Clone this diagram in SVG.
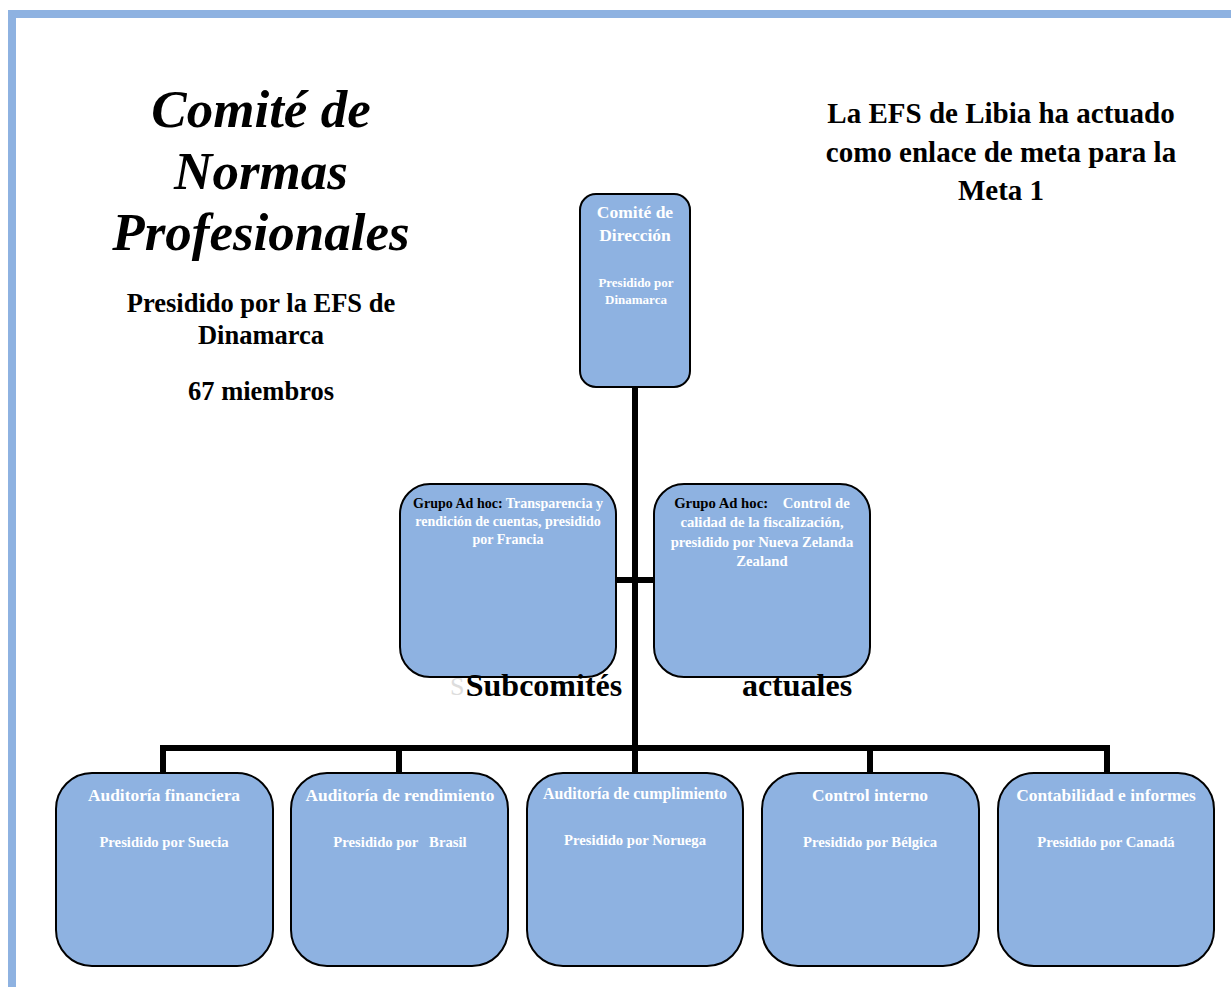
<svg xmlns="http://www.w3.org/2000/svg" width="1231" height="987" viewBox="0 0 1231 987">
<style>
.box{fill:#8EB2E1;stroke:#000;stroke-width:2}
.ln{stroke:#000;stroke-width:6;fill:none}
.w{font-family:"Liberation Serif","Times New Roman",serif;font-weight:bold;fill:#fff;text-anchor:middle}
.b{font-family:"Liberation Serif","Times New Roman",serif;font-weight:bold;fill:#000;text-anchor:middle}
</style>
<rect x="0" y="0" width="1231" height="987" fill="#fff"/>
<rect x="8" y="10" width="1223" height="8" fill="#8EB2E1"/>
<rect x="8" y="10" width="8" height="977" fill="#8EB2E1"/>
<g id="connectors">
<path class="ln" d="M635 387V748M616 580H654M163 774V748H1107V774M399 748V774M870 748V774M635 748V774"/>
</g>
<g id="title">
<text class="b" font-style="italic" font-size="53" x="261" y="127">Comité de</text>
<text class="b" font-style="italic" font-size="53" x="261" y="189">Normas</text>
<text class="b" font-style="italic" font-size="53" x="261" y="250">Profesionales</text>
<text class="b" font-size="26.5" x="261" y="312">Presidido por la EFS de</text>
<text class="b" font-size="26.5" x="261" y="344">Dinamarca</text>
<text class="b" font-size="26.5" x="261" y="400">67 miembros</text>
</g>
<g id="note">
<text class="b" font-size="29" x="1001" y="123">La EFS de Libia ha actuado</text>
<text class="b" font-size="29" x="1001" y="162">como enlace de meta para la</text>
<text class="b" font-size="29" x="1001" y="200">Meta 1</text>
</g>
<g id="direccion">
<rect class="box" x="580" y="194" width="110" height="193" rx="16"/>
<text class="w" font-size="17.5" x="635" y="218">Comité de</text>
<text class="w" font-size="17.5" x="635" y="241">Dirección</text>
<text class="w" font-size="13" x="636" y="287">Presidido por</text>
<text class="w" font-size="13" x="636" y="304">Dinamarca</text>
</g>
<g id="adhoc1">
<rect class="box" x="400" y="484" width="216" height="193" rx="30"/>
<text class="w" font-size="14" x="508" y="508"><tspan fill="#000">Grupo Ad hoc:</tspan> Transparencia y</text>
<text class="w" font-size="14" x="508" y="526">rendición de cuentas, presidido</text>
<text class="w" font-size="14" x="508" y="544">por Francia</text>
</g>
<g id="adhoc2">
<rect class="box" x="654" y="484" width="216" height="193" rx="30"/>
<text class="w" font-size="14.7" x="762" y="508" xml:space="preserve"><tspan fill="#000">Grupo Ad hoc:</tspan>    Control de</text>
<text class="w" font-size="14.7" x="762" y="527">calidad de la fiscalización,</text>
<text class="w" font-size="14.7" x="762" y="547">presidido por Nueva Zelanda</text>
<text class="w" font-size="14.7" x="762" y="566">Zealand</text>
</g>
<g id="subtitle">
<text font-family="Liberation Serif,serif" font-size="26" fill="#ddd" x="450" y="695">S</text>
<text class="b" font-size="32" x="544" y="696">Subcomités</text>
<text class="b" font-size="32" x="797" y="696">actuales</text>
</g>
<g id="n1">
<rect class="box" x="56" y="773" width="217" height="193" rx="36"/>
<text class="w" font-size="17.4" x="164" y="801">Auditoría financiera</text>
<text class="w" font-size="14.7" x="164" y="847">Presidido por Suecia</text>
</g>
<g id="n2">
<rect class="box" x="291" y="773" width="217" height="193" rx="36"/>
<text class="w" font-size="17.4" x="400" y="801">Auditoría de rendimiento</text>
<text class="w" font-size="14.7" x="400" y="847" xml:space="preserve">Presidido por   Brasil</text>
</g>
<g id="n3">
<rect class="box" x="527" y="773" width="216" height="193" rx="36"/>
<text class="w" font-size="16" x="635" y="799" textLength="184" lengthAdjust="spacingAndGlyphs">Auditoría de cumplimiento</text>
<text class="w" font-size="14.7" x="635" y="845" textLength="142" lengthAdjust="spacingAndGlyphs">Presidido por Noruega</text>
</g>
<g id="n4">
<rect class="box" x="762" y="773" width="217" height="193" rx="36"/>
<text class="w" font-size="17.4" x="870" y="801">Control interno</text>
<text class="w" font-size="14.7" x="870" y="847">Presidido por Bélgica</text>
</g>
<g id="n5">
<rect class="box" x="998" y="773" width="216" height="193" rx="36"/>
<text class="w" font-size="17.4" x="1106" y="801">Contabilidad e informes</text>
<text class="w" font-size="14.7" x="1106" y="847">Presidido por Canadá</text>
</g>
</svg>
